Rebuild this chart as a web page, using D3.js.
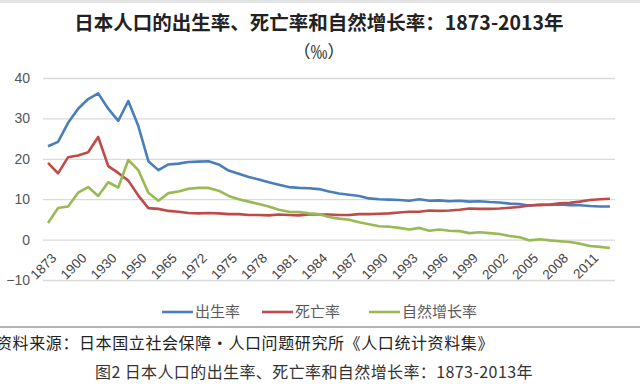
<!DOCTYPE html>
<html>
<head>
<meta charset="utf-8">
<script src="https://cdn.jsdelivr.net/npm/d3@7"></script>
<style>
  html, body { margin: 0; padding: 0; background: #fff; }
  svg { display: block; font-family: "Noto Sans CJK SC", "Noto Sans", sans-serif; }
</style>
</head>
<body>
<svg width="640" height="384"></svg>
<script>
let years = ['1873','1880','1890','1900','1910','1920','1930','1940','1947','1950','1955','1960','1965',
  '1970','1971','1972','1973','1974','1975','1976','1977','1978','1979','1980','1981','1982','1983','1984',
  '1985','1986','1987','1988','1989','1990','1991','1992','1993','1994','1995','1996','1997','1998','1999',
  '2000','2001','2002','2003','2004','2005','2006','2007','2008','2009','2010','2011','2012','2013']

let birthRate = [23.1, 24.2, 28.9, 32.4, 34.8, 36.2, 32.4, 29.4, 34.3, 28.1, 19.4, 17.2, 18.6,
  18.8, 19.2, 19.3, 19.4, 18.6, 17.1, 16.3, 15.5, 14.9, 14.2, 13.6, 13.0, 12.8, 12.7, 12.5,
  11.9, 11.4, 11.1, 10.8, 10.2, 10.0, 9.9, 9.8, 9.6, 10.0, 9.6, 9.7, 9.5, 9.6, 9.4,
  9.5, 9.3, 9.2, 8.9, 8.8, 8.4, 8.7, 8.6, 8.7, 8.5, 8.5, 8.3, 8.2, 8.2]

let deathRate = [19.0, 16.4, 20.4, 20.8, 21.6, 25.4, 18.2, 16.5, 14.6, 10.9, 7.8, 7.6, 7.1,
  6.9, 6.6, 6.5, 6.6, 6.5, 6.3, 6.3, 6.1, 6.1, 6.0, 6.2, 6.1, 6.0, 6.2, 6.2,
  6.2, 6.1, 6.1, 6.3, 6.3, 6.4, 6.5, 6.7, 6.9, 6.9, 7.2, 7.1, 7.2, 7.4, 7.7,
  7.6, 7.6, 7.7, 7.9, 8.1, 8.5, 8.5, 8.7, 9.0, 9.1, 9.4, 9.8, 10.0, 10.1]

let naturalRate = [4.1, 7.8, 8.2, 11.6, 13.0, 10.8, 14.2, 12.9, 19.7, 17.2, 11.6, 9.6, 11.5,
  11.9, 12.6, 12.8, 12.8, 12.1, 10.8, 10.0, 9.4, 8.8, 8.2, 7.4, 6.9, 6.8, 6.5, 6.3,
  5.6, 5.2, 4.9, 4.3, 3.8, 3.3, 3.2, 2.9, 2.5, 2.9, 2.2, 2.5, 2.2, 2.1, 1.6,
  1.8, 1.6, 1.4, 0.9, 0.6, -0.2, 0.1, -0.2, -0.4, -0.6, -1.0, -1.6, -1.8, -2.1]

let yTicks = [-10, 0, 10, 20, 30, 40]

let seriesNames = ['出生率', '死亡率', '自然增长率']
let seriesColors = ['#4a7ebb', '#be4b48', '#98b954']

let titleText = '日本人口的出生率、死亡率和自然增长率：1873-2013年'
let unitText = '（‰）'
let sourceText = '资料来源：日本国立社会保障•人口问题研究所《人口统计资料集》'
let captionText = '图2 日本人口的出生率、死亡率和自然增长率：1873-2013年'

let svg = d3.select('svg')

let plotLeft = 43
let plotRight = 615
let plotTop = 78
let plotBottom = 280

let xScale = d3.scaleBand().domain(years).range([plotLeft, plotRight]).padding(0)
let yScale = d3.scaleLinear().domain([-10, 40]).range([plotBottom, plotTop])
let xPos = (year) => xScale(year) + xScale.bandwidth() / 2

// top strip
svg.append('rect').attr('x', 0).attr('y', 0).attr('width', 640).attr('height', 3).attr('fill', '#e4e4e4')

// title
svg.append('text').text(titleText)
  .attr('x', 319).attr('y', 30)
  .attr('text-anchor', 'middle')
  .attr('font-size', 19.5).attr('font-weight', 'bold')
  .attr('fill', '#222')
svg.append('text').text(unitText)
  .attr('x', 319).attr('y', 58)
  .attr('text-anchor', 'middle')
  .attr('font-size', 17)
  .attr('fill', '#222')

// gridlines + y labels
let yAxis = d3.axisLeft(yScale).tickValues(yTicks).tickSize(-(plotRight - plotLeft)).tickFormat(d3.format('d'))
let gy = svg.append('g').attr('transform', 'translate(' + plotLeft + ',0)').call(yAxis)
gy.select('.domain').remove()
gy.selectAll('.tick line').attr('stroke', '#d9d9d9').attr('stroke-width', 1.3)
gy.selectAll('.tick text')
  .attr('x', -13)
  .attr('font-size', 14)
  .attr('font-family', 'Liberation Sans, sans-serif')
  .attr('fill', '#555')

// x labels (every third category)
let xAxis = d3.axisBottom(xScale).tickValues(years.filter((d, i) => i % 3 === 0)).tickSize(0)
let gx = svg.append('g').attr('transform', 'translate(0,' + yScale(0) + ')').call(xAxis)
gx.select('.domain').remove()
gx.selectAll('.tick text')
  .attr('font-size', 13.5)
  .attr('font-family', 'Liberation Sans, sans-serif')
  .attr('fill', '#444')
  .attr('text-anchor', 'end')
  .attr('y', 0).attr('dy', '0.35em')
  .attr('transform', 'translate(6,16) rotate(-45)')

// lines
let allSeries = [birthRate, deathRate, naturalRate]
let line = d3.line()
  .x((d, i) => xPos(years[i]))
  .y((d) => yScale(d))

allSeries.forEach((values, k) => {
  svg.append('path')
    .datum(values)
    .attr('d', line)
    .attr('fill', 'none')
    .attr('stroke', seriesColors[k])
    .attr('stroke-width', 2.6)
    .attr('stroke-linejoin', 'round')
})

// legend
let legendX = [162, 262, 369]
seriesNames.forEach((name, k) => {
  let g = svg.append('g').attr('transform', 'translate(' + legendX[k] + ',312)')
  g.append('line').attr('x1', 0).attr('x2', 31).attr('y1', 0).attr('y2', 0)
    .attr('stroke', seriesColors[k]).attr('stroke-width', 2.6)
  g.append('text').text(name).attr('x', 33).attr('y', 0).attr('dy', '0.35em')
    .attr('font-size', 15).attr('fill', '#595959')
})

// separator and footer
svg.append('line').attr('x1', 0).attr('x2', 640).attr('y1', 327).attr('y2', 327)
  .attr('stroke', '#9a9a9a').attr('stroke-width', 1.5)
svg.append('text').text(sourceText)
  .attr('x', -4).attr('y', 349)
  .attr('font-size', 16).attr('letter-spacing', 0.6).attr('fill', '#222')
svg.append('text').text(captionText)
  .attr('x', 95).attr('y', 378)
  .attr('font-size', 16).attr('letter-spacing', 0.4).attr('fill', '#333')
</script>
</body>
</html>
